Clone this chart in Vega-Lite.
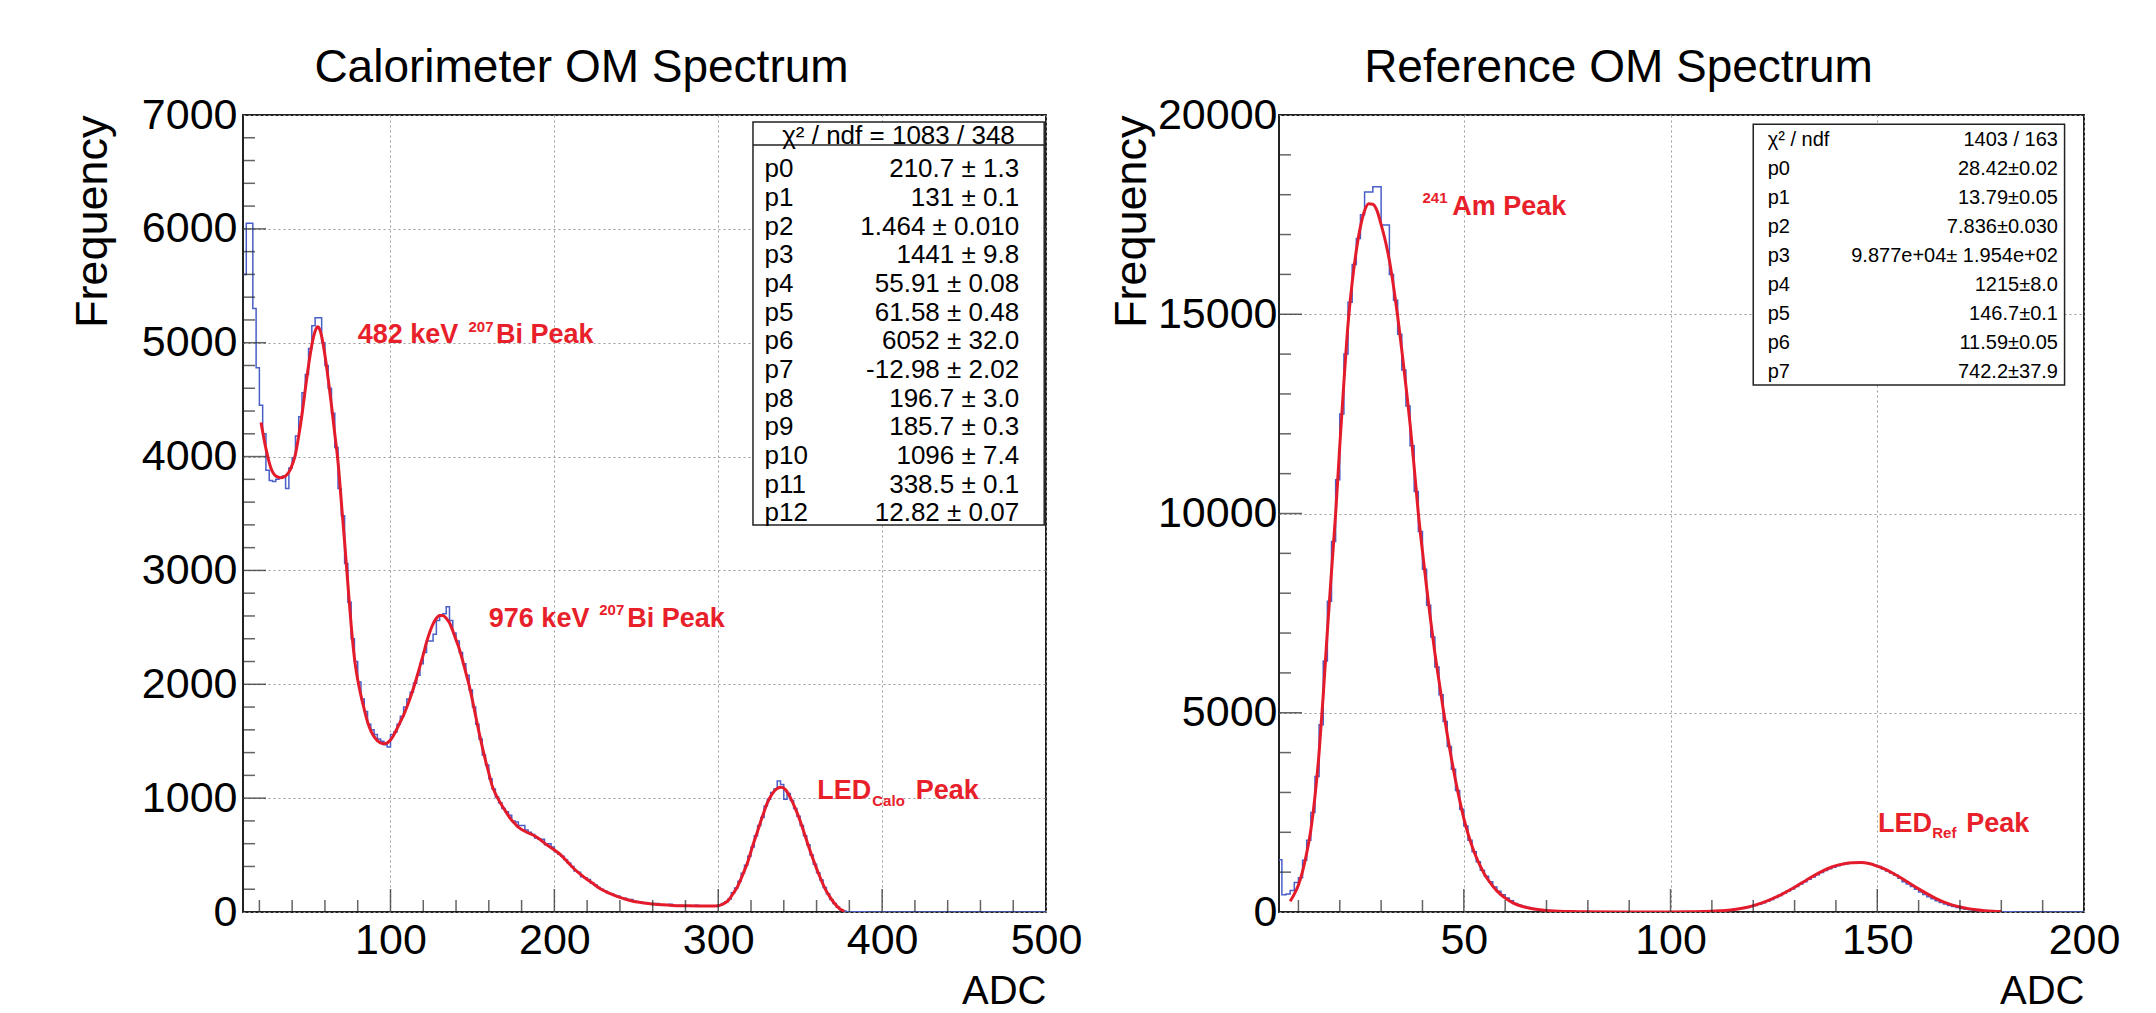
{
"$schema": "https://vega.github.io/schema/vega-lite/v6.json",
"background": "white",
"padding": {"left": 69, "top": 44, "right": 0, "bottom": 0},
"bounds": "flush",
"spacing": 233,
"config": {
  "view": {"stroke": "#222", "strokeWidth": 2},
  "font": "Liberation Sans",
  "axis": {"grid": true, "gridColor": "#9a9a9a", "gridDash": [2, 3], "gridWidth": 1, "domain": false, "ticks": false, "labelFont": "Liberation Sans", "labelFontSize": 43, "labelColor": "#000", "labelOverlap": false, "titleFont": "Liberation Sans", "titleFontSize": 45, "titleFontWeight": "normal", "titleColor": "#000", "format": "d"},
  "title": {"font": "Liberation Sans", "fontSize": 46, "fontWeight": "normal", "color": "#000"}
},
"datasets": {
  "calo_hist": [
    {"adc":10,"count":5600},{"adc":12,"count":6050},{"adc":14,"count":6050},{"adc":16,"count":5300},{"adc":18,"count":4780},{"adc":20,"count":4450},{"adc":22,"count":4200},{"adc":24,"count":3880},{"adc":26,"count":3790},{"adc":28,"count":3780},{"adc":30,"count":3800},{"adc":32,"count":3810},{"adc":34,"count":3830},{"adc":36,"count":3720},{"adc":38,"count":3900},{"adc":40,"count":3990},{"adc":42,"count":4180},{"adc":44,"count":4350},{"adc":46,"count":4560},{"adc":48,"count":4720},{"adc":50,"count":4950},{"adc":52,"count":5150},{"adc":54,"count":5220},{"adc":56,"count":5220},{"adc":58,"count":5000},{"adc":60,"count":4800},{"adc":62,"count":4600},{"adc":64,"count":4380},{"adc":66,"count":4080},{"adc":68,"count":3720},{"adc":70,"count":3480},{"adc":72,"count":3060},{"adc":74,"count":2720},{"adc":76,"count":2400},{"adc":78,"count":2200},{"adc":80,"count":2020},{"adc":82,"count":1870},{"adc":84,"count":1760},{"adc":86,"count":1650},{"adc":88,"count":1600},{"adc":90,"count":1560},{"adc":92,"count":1520},{"adc":94,"count":1500},{"adc":96,"count":1470},{"adc":98,"count":1450},{"adc":100,"count":1560},{"adc":102,"count":1580},{"adc":104,"count":1650},{"adc":106,"count":1720},{"adc":108,"count":1800},{"adc":110,"count":1870},{"adc":112,"count":1930},{"adc":114,"count":2010},{"adc":116,"count":2080},{"adc":118,"count":2180},{"adc":120,"count":2280},{"adc":122,"count":2380},{"adc":124,"count":2380},{"adc":126,"count":2440},{"adc":128,"count":2560},{"adc":130,"count":2600},{"adc":132,"count":2620},{"adc":134,"count":2680},{"adc":136,"count":2560},{"adc":138,"count":2450},{"adc":140,"count":2380},{"adc":142,"count":2280},{"adc":144,"count":2180},{"adc":146,"count":2080},{"adc":148,"count":1950},{"adc":150,"count":1800},{"adc":152,"count":1650},{"adc":154,"count":1520},{"adc":156,"count":1380},{"adc":158,"count":1290},{"adc":160,"count":1170},{"adc":162,"count":1080},{"adc":164,"count":1010},{"adc":166,"count":960},{"adc":168,"count":910},{"adc":170,"count":880},{"adc":172,"count":850},{"adc":174,"count":800},{"adc":176,"count":790},{"adc":178,"count":760},{"adc":180,"count":760},{"adc":182,"count":720},{"adc":184,"count":700},{"adc":186,"count":680},{"adc":188,"count":650},{"adc":190,"count":640},{"adc":192,"count":640},{"adc":194,"count":590},{"adc":196,"count":600},{"adc":198,"count":570},{"adc":200,"count":530},{"adc":202,"count":510},{"adc":204,"count":490},{"adc":206,"count":460},{"adc":208,"count":430},{"adc":210,"count":400},{"adc":212,"count":360},{"adc":214,"count":350},{"adc":216,"count":310},{"adc":218,"count":300},{"adc":220,"count":285},{"adc":222,"count":255},{"adc":224,"count":240},{"adc":226,"count":215},{"adc":228,"count":200},{"adc":230,"count":185},{"adc":232,"count":170},{"adc":234,"count":160},{"adc":236,"count":145},{"adc":238,"count":140},{"adc":240,"count":125},{"adc":242,"count":120},{"adc":244,"count":110},{"adc":246,"count":110},{"adc":248,"count":95},{"adc":250,"count":90},{"adc":252,"count":85},{"adc":254,"count":80},{"adc":256,"count":75},{"adc":258,"count":72},{"adc":260,"count":70},{"adc":262,"count":75},{"adc":264,"count":64},{"adc":266,"count":62},{"adc":268,"count":60},{"adc":270,"count":68},{"adc":272,"count":58},{"adc":274,"count":57},{"adc":276,"count":56},{"adc":278,"count":55},{"adc":280,"count":55},{"adc":282,"count":54},{"adc":284,"count":54},{"adc":286,"count":60},{"adc":288,"count":53},{"adc":290,"count":52},{"adc":292,"count":52},{"adc":294,"count":53},{"adc":296,"count":53},{"adc":298,"count":55},{"adc":300,"count":60},{"adc":302,"count":75},{"adc":304,"count":90},{"adc":306,"count":115},{"adc":308,"count":170},{"adc":310,"count":210},{"adc":312,"count":270},{"adc":314,"count":340},{"adc":316,"count":410},{"adc":318,"count":490},{"adc":320,"count":570},{"adc":322,"count":670},{"adc":324,"count":760},{"adc":326,"count":830},{"adc":328,"count":930},{"adc":330,"count":990},{"adc":332,"count":1050},{"adc":334,"count":1080},{"adc":336,"count":1150},{"adc":338,"count":1120},{"adc":340,"count":990},{"adc":342,"count":1040},{"adc":344,"count":980},{"adc":346,"count":910},{"adc":348,"count":840},{"adc":350,"count":760},{"adc":352,"count":670},{"adc":354,"count":590},{"adc":356,"count":500},{"adc":358,"count":420},{"adc":360,"count":345},{"adc":362,"count":280},{"adc":364,"count":215},{"adc":366,"count":160},{"adc":368,"count":110},{"adc":370,"count":75},{"adc":372,"count":45},{"adc":374,"count":20},{"adc":376,"count":8},{"adc":378,"count":3},{"adc":380,"count":2},{"adc":390,"count":1},{"adc":400,"count":1},{"adc":420,"count":0},{"adc":500,"count":0}
  ],
  "calo_fit": [
    {"adc":21,"count":4300},{"adc":24,"count":4070},{"adc":27,"count":3900},{"adc":30,"count":3830},{"adc":33,"count":3815},{"adc":36,"count":3830},{"adc":39,"count":3890},{"adc":42,"count":4020},{"adc":44,"count":4180},{"adc":46,"count":4370},{"adc":48,"count":4590},{"adc":50,"count":4800},{"adc":52,"count":4980},{"adc":54,"count":5100},{"adc":55.5,"count":5140},{"adc":57,"count":5110},{"adc":58.5,"count":5020},{"adc":60,"count":4890},{"adc":62,"count":4680},{"adc":64,"count":4450},{"adc":66,"count":4200},{"adc":68,"count":3950},{"adc":70,"count":3600},{"adc":72,"count":3250},{"adc":74,"count":2880},{"adc":76,"count":2520},{"adc":78,"count":2230},{"adc":80,"count":2040},{"adc":82,"count":1900},{"adc":84,"count":1780},{"adc":86,"count":1670},{"adc":88,"count":1590},{"adc":90,"count":1540},{"adc":92,"count":1505},{"adc":94,"count":1485},{"adc":96,"count":1478},{"adc":98,"count":1485},{"adc":100,"count":1510},{"adc":102,"count":1555},{"adc":104,"count":1610},{"adc":106,"count":1670},{"adc":108,"count":1730},{"adc":110,"count":1800},{"adc":112,"count":1880},{"adc":114,"count":1965},{"adc":116,"count":2060},{"adc":118,"count":2160},{"adc":120,"count":2260},{"adc":122,"count":2370},{"adc":124,"count":2460},{"adc":126,"count":2530},{"adc":128,"count":2580},{"adc":130,"count":2605},{"adc":132,"count":2605},{"adc":134,"count":2580},{"adc":136,"count":2540},{"adc":138,"count":2470},{"adc":140,"count":2390},{"adc":142,"count":2310},{"adc":144,"count":2210},{"adc":146,"count":2100},{"adc":148,"count":1990},{"adc":150,"count":1860},{"adc":152,"count":1720},{"adc":154,"count":1580},{"adc":156,"count":1450},{"adc":158,"count":1330},{"adc":160,"count":1220},{"adc":162,"count":1110},{"adc":164,"count":1040},{"adc":166,"count":985},{"adc":168,"count":935},{"adc":170,"count":890},{"adc":172,"count":845},{"adc":174,"count":805},{"adc":176,"count":775},{"adc":178,"count":745},{"adc":180,"count":725},{"adc":182,"count":710},{"adc":184,"count":695},{"adc":186,"count":683},{"adc":188,"count":668},{"adc":190,"count":650},{"adc":192,"count":628},{"adc":194,"count":605},{"adc":196,"count":584},{"adc":198,"count":565},{"adc":200,"count":545},{"adc":204,"count":500},{"adc":208,"count":440},{"adc":212,"count":380},{"adc":216,"count":330},{"adc":220,"count":285},{"adc":224,"count":245},{"adc":228,"count":205},{"adc":232,"count":175},{"adc":236,"count":150},{"adc":240,"count":128},{"adc":244,"count":110},{"adc":248,"count":95},{"adc":252,"count":85},{"adc":256,"count":76},{"adc":260,"count":70},{"adc":266,"count":63},{"adc":272,"count":58},{"adc":280,"count":55},{"adc":288,"count":53},{"adc":296,"count":53},{"adc":300,"count":55},{"adc":303,"count":70},{"adc":306,"count":100},{"adc":309,"count":160},{"adc":312,"count":230},{"adc":315,"count":330},{"adc":318,"count":440},{"adc":321,"count":580},{"adc":324,"count":710},{"adc":327,"count":840},{"adc":330,"count":960},{"adc":333,"count":1040},{"adc":336,"count":1085},{"adc":338.5,"count":1096},{"adc":341,"count":1075},{"adc":344,"count":1005},{"adc":347,"count":910},{"adc":350,"count":800},{"adc":353,"count":670},{"adc":356,"count":540},{"adc":359,"count":420},{"adc":362,"count":310},{"adc":365,"count":210},{"adc":368,"count":135},{"adc":371,"count":75},{"adc":374,"count":30},{"adc":377,"count":6}
  ],
  "ref_hist": [
    {"adc":5,"count":1310},{"adc":6,"count":430},{"adc":7,"count":450},{"adc":8,"count":540},{"adc":9,"count":740},{"adc":10,"count":860},{"adc":11,"count":1300},{"adc":12,"count":1800},{"adc":13,"count":2500},{"adc":14,"count":3400},{"adc":15,"count":4700},{"adc":16,"count":6300},{"adc":17,"count":7800},{"adc":18,"count":9300},{"adc":19,"count":10850},{"adc":20,"count":12500},{"adc":21,"count":14000},{"adc":22,"count":15300},{"adc":23,"count":16250},{"adc":24,"count":16900},{"adc":25,"count":17500},{"adc":26,"count":18070},{"adc":27,"count":18070},{"adc":28,"count":18200},{"adc":29,"count":18200},{"adc":30,"count":17240},{"adc":31,"count":17240},{"adc":32,"count":16000},{"adc":33,"count":15350},{"adc":34,"count":14500},{"adc":35,"count":13600},{"adc":36,"count":12700},{"adc":37,"count":11700},{"adc":38,"count":10550},{"adc":39,"count":9550},{"adc":40,"count":8600},{"adc":41,"count":7700},{"adc":42,"count":6900},{"adc":43,"count":6150},{"adc":44,"count":5450},{"adc":45,"count":4780},{"adc":46,"count":4150},{"adc":47,"count":3580},{"adc":48,"count":3050},{"adc":49,"count":2580},{"adc":50,"count":2160},{"adc":51,"count":1800},{"adc":52,"count":1510},{"adc":53,"count":1260},{"adc":54,"count":1050},{"adc":55,"count":900},{"adc":56,"count":760},{"adc":57,"count":630},{"adc":58,"count":520},{"adc":59,"count":430},{"adc":60,"count":350},{"adc":61,"count":280},{"adc":62,"count":215},{"adc":63,"count":170},{"adc":64,"count":135},{"adc":65,"count":110},{"adc":66,"count":90},{"adc":67,"count":72},{"adc":68,"count":58},{"adc":69,"count":46},{"adc":70,"count":37},{"adc":71,"count":30},{"adc":72,"count":24},{"adc":73,"count":19},{"adc":74,"count":15},{"adc":75,"count":12},{"adc":76,"count":10},{"adc":77,"count":8},{"adc":78,"count":6},{"adc":82,"count":5},{"adc":90,"count":4},{"adc":98,"count":4},{"adc":104,"count":5},{"adc":105,"count":6},{"adc":106,"count":8},{"adc":107,"count":10},{"adc":108,"count":12},{"adc":109,"count":15},{"adc":110,"count":20},{"adc":111,"count":25},{"adc":112,"count":32},{"adc":113,"count":40},{"adc":114,"count":50},{"adc":115,"count":62},{"adc":116,"count":78},{"adc":117,"count":95},{"adc":118,"count":115},{"adc":119,"count":140},{"adc":120,"count":165},{"adc":121,"count":195},{"adc":122,"count":230},{"adc":123,"count":270},{"adc":124,"count":315},{"adc":125,"count":365},{"adc":126,"count":415},{"adc":127,"count":470},{"adc":128,"count":525},{"adc":129,"count":580},{"adc":130,"count":640},{"adc":131,"count":700},{"adc":132,"count":760},{"adc":133,"count":820},{"adc":134,"count":880},{"adc":135,"count":935},{"adc":136,"count":990},{"adc":137,"count":1040},{"adc":138,"count":1085},{"adc":139,"count":1125},{"adc":140,"count":1160},{"adc":141,"count":1190},{"adc":142,"count":1210},{"adc":143,"count":1225},{"adc":144,"count":1235},{"adc":145,"count":1240},{"adc":146,"count":1238},{"adc":147,"count":1225},{"adc":148,"count":1205},{"adc":149,"count":1175},{"adc":150,"count":1140},{"adc":151,"count":1080},{"adc":152,"count":1030},{"adc":153,"count":980},{"adc":154,"count":920},{"adc":155,"count":850},{"adc":156,"count":760},{"adc":157,"count":700},{"adc":158,"count":640},{"adc":159,"count":570},{"adc":160,"count":500},{"adc":161,"count":440},{"adc":162,"count":385},{"adc":163,"count":330},{"adc":164,"count":285},{"adc":165,"count":240},{"adc":166,"count":200},{"adc":167,"count":165},{"adc":168,"count":135},{"adc":169,"count":110},{"adc":170,"count":90},{"adc":171,"count":72},{"adc":172,"count":57},{"adc":173,"count":45},{"adc":174,"count":35},{"adc":175,"count":27},{"adc":176,"count":20},{"adc":177,"count":15},{"adc":178,"count":11},{"adc":179,"count":8},{"adc":180,"count":6},{"adc":181,"count":5},{"adc":182,"count":4},{"adc":183,"count":3},{"adc":184,"count":3},{"adc":185,"count":2},{"adc":186,"count":2},{"adc":187,"count":1},{"adc":188,"count":0},{"adc":200,"count":0}
  ],
  "ref_fit": [
    {"adc":8,"count":270},{"adc":9,"count":450},{"adc":10,"count":680},{"adc":11,"count":1020},{"adc":12,"count":1480},{"adc":13,"count":2060},{"adc":14,"count":2900},{"adc":15,"count":4000},{"adc":16,"count":5450},{"adc":17,"count":7050},{"adc":18,"count":8550},{"adc":19,"count":10000},{"adc":20,"count":11700},{"adc":21,"count":13300},{"adc":22,"count":14750},{"adc":23,"count":15800},{"adc":24,"count":16600},{"adc":25,"count":17200},{"adc":26,"count":17600},{"adc":27,"count":17770},{"adc":28,"count":17760},{"adc":29,"count":17600},{"adc":30,"count":17250},{"adc":31,"count":16850},{"adc":32,"count":16350},{"adc":33,"count":15700},{"adc":34,"count":14950},{"adc":35,"count":14100},{"adc":36,"count":13200},{"adc":37,"count":12250},{"adc":38,"count":11150},{"adc":39,"count":10000},{"adc":40,"count":9050},{"adc":41,"count":8150},{"adc":42,"count":7300},{"adc":43,"count":6500},{"adc":44,"count":5800},{"adc":45,"count":5100},{"adc":46,"count":4450},{"adc":47,"count":3850},{"adc":48,"count":3300},{"adc":49,"count":2800},{"adc":50,"count":2350},{"adc":51,"count":1970},{"adc":52,"count":1650},{"adc":53,"count":1380},{"adc":54,"count":1150},{"adc":55,"count":950},{"adc":56,"count":790},{"adc":57,"count":650},{"adc":58,"count":530},{"adc":60,"count":350},{"adc":62,"count":225},{"adc":64,"count":145},{"adc":66,"count":95},{"adc":68,"count":60},{"adc":70,"count":38},{"adc":73,"count":20},{"adc":76,"count":10},{"adc":80,"count":5},{"adc":90,"count":3},{"adc":100,"count":3},{"adc":104,"count":5},{"adc":108,"count":10},{"adc":112,"count":30},{"adc":115,"count":55},{"adc":118,"count":105},{"adc":121,"count":190},{"adc":124,"count":305},{"adc":127,"count":450},{"adc":130,"count":620},{"adc":133,"count":810},{"adc":136,"count":990},{"adc":139,"count":1130},{"adc":142,"count":1210},{"adc":144,"count":1235},{"adc":146,"count":1240},{"adc":148,"count":1215},{"adc":150,"count":1150},{"adc":152,"count":1070},{"adc":154,"count":960},{"adc":156,"count":840},{"adc":158,"count":710},{"adc":160,"count":580},{"adc":162,"count":460},{"adc":164,"count":350},{"adc":166,"count":255},{"adc":168,"count":180},{"adc":170,"count":125},{"adc":172,"count":85},{"adc":174,"count":55},{"adc":176,"count":32},{"adc":178,"count":18},{"adc":180,"count":10}
  ],
  "calo_xminor": [{"adc":20},{"adc":40},{"adc":60},{"adc":80},{"adc":120},{"adc":140},{"adc":160},{"adc":180},{"adc":220},{"adc":240},{"adc":260},{"adc":280},{"adc":320},{"adc":340},{"adc":360},{"adc":380},{"adc":420},{"adc":440},{"adc":460},{"adc":480}],
  "calo_xmajor": [{"adc":100},{"adc":200},{"adc":300},{"adc":400}],
  "calo_yminor": [{"count":200},{"count":400},{"count":600},{"count":800},{"count":1200},{"count":1400},{"count":1600},{"count":1800},{"count":2200},{"count":2400},{"count":2600},{"count":2800},{"count":3200},{"count":3400},{"count":3600},{"count":3800},{"count":4200},{"count":4400},{"count":4600},{"count":4800},{"count":5200},{"count":5400},{"count":5600},{"count":5800},{"count":6200},{"count":6400},{"count":6600},{"count":6800}],
  "calo_ymajor": [{"count":1000},{"count":2000},{"count":3000},{"count":4000},{"count":5000},{"count":6000}],
  "ref_xminor": [{"adc":10},{"adc":20},{"adc":30},{"adc":40},{"adc":60},{"adc":70},{"adc":80},{"adc":90},{"adc":110},{"adc":120},{"adc":130},{"adc":140},{"adc":160},{"adc":170},{"adc":180},{"adc":190}],
  "ref_xmajor": [{"adc":50},{"adc":100},{"adc":150}],
  "ref_yminor": [{"count":1000},{"count":2000},{"count":3000},{"count":4000},{"count":6000},{"count":7000},{"count":8000},{"count":9000},{"count":11000},{"count":12000},{"count":13000},{"count":14000},{"count":16000},{"count":17000},{"count":18000},{"count":19000}],
  "ref_ymajor": [{"count":5000},{"count":10000},{"count":15000}],
  "calo_stats": [
    {"label":"p0","val":"210.7 ± 1.3","count":6523},{"label":"p1","val":"131 ± 0.1","count":6271},{"label":"p2","val":"1.464 ± 0.010","count":6020},{"label":"p3","val":"1441 ± 9.8","count":5768},{"label":"p4","val":"55.91 ± 0.08","count":5516},{"label":"p5","val":"61.58 ± 0.48","count":5264},{"label":"p6","val":"6052 ± 32.0","count":5013},{"label":"p7","val":"-12.98 ± 2.02","count":4761},{"label":"p8","val":"196.7 ± 3.0","count":4509},{"label":"p9","val":"185.7 ± 0.3","count":4257},{"label":"p10","val":"1096 ± 7.4","count":4005},{"label":"p11","val":"338.5 ± 0.1","count":3754},{"label":"p12","val":"12.82 ± 0.07","count":3502}
  ],
  "ref_stats": [
    {"label":"χ² / ndf","val":"1403 / 163","count":19369},{"label":"p0","val":"28.42±0.02","count":18642},{"label":"p1","val":"13.79±0.05","count":17916},{"label":"p2","val":"7.836±0.030","count":17188},{"label":"p3","val":"9.877e+04± 1.954e+02","count":16462},{"label":"p4","val":"1215±8.0","count":15735},{"label":"p5","val":"146.7±0.1","count":15008},{"label":"p6","val":"11.59±0.05","count":14282},{"label":"p7","val":"742.2±37.9","count":13555}
  ],
  "calo_ann_big": [{"adc":80.0,"count":4995,"t":"482 keV"},{"adc":164.4,"count":4995,"t":"Bi Peak"},{"adc":160.0,"count":2506,"t":"976 keV"},{"adc":244.4,"count":2506,"t":"Bi Peak"},{"adc":360.4,"count":990,"t":"LED"},{"adc":420.5,"count":990,"t":"Peak"}],
  "calo_ann_small": [{"adc":147.6,"count":5098,"t":"207"},{"adc":227.4,"count":2608,"t":"207"},{"adc":394.0,"count":934,"t":"Calo"}],
  "ref_ann_big": [{"adc":47.2,"count":17488,"t":"Am Peak"},{"adc":150.2,"count":2015,"t":"LED"},{"adc":171.5,"count":2015,"t":"Peak"}],
  "ref_ann_small": [{"adc":40.0,"count":17781,"t":"241"},{"adc":163.3,"count":1849,"t":"Ref"}]
},
"hconcat": [
  {
    "width": 803, "height": 797,
    "title": {"text": "Calorimeter OM Spectrum", "anchor": "middle", "frame": "group", "dx": -63, "offset": -34, "baseline": "alphabetic"},
    "layer": [
      {"data": {"name": "calo_hist"}, "mark": {"type": "line", "interpolate": "step-after", "color": "#4a5fc8", "strokeWidth": 1.5, "clip": true},
       "encoding": {
         "x": {"field": "adc", "type": "quantitative", "scale": {"domain": [10, 500], "nice": false, "zero": false}, "axis": {"values": [100, 200, 300, 400, 500], "title": "ADC", "titleAnchor": "end", "titleFontSize": 40, "labelPadding": 7, "titlePadding": 9, "labelFlush": false}},
         "y": {"field": "count", "type": "quantitative", "scale": {"domain": [0, 7000], "nice": false}, "axis": {"values": [0, 1000, 2000, 3000, 4000, 5000, 6000, 7000], "title": "Frequency", "titleAnchor": "end", "labelPadding": 6, "titlePadding": 26}}
       }},
      {"data": {"name": "calo_fit"}, "mark": {"type": "line", "interpolate": "monotone", "color": "#e41b2a", "strokeWidth": 3, "clip": true},
       "encoding": {"x": {"field": "adc", "type": "quantitative"}, "y": {"field": "count", "type": "quantitative"}}},
      {"data": {"name": "calo_xminor"}, "mark": {"type": "tick", "orient": "vertical", "size": 12, "thickness": 1.5, "color": "#222", "yOffset": -6},
       "encoding": {"x": {"field": "adc", "type": "quantitative"}, "y": {"datum": 0}}},
      {"data": {"name": "calo_xmajor"}, "mark": {"type": "tick", "orient": "vertical", "size": 23, "thickness": 1.5, "color": "#222", "yOffset": -11.5},
       "encoding": {"x": {"field": "adc", "type": "quantitative"}, "y": {"datum": 0}}},
      {"data": {"name": "calo_yminor"}, "mark": {"type": "tick", "orient": "horizontal", "size": 12, "thickness": 1.5, "color": "#222", "xOffset": 6},
       "encoding": {"y": {"field": "count", "type": "quantitative"}, "x": {"datum": 10}}},
      {"data": {"name": "calo_ymajor"}, "mark": {"type": "tick", "orient": "horizontal", "size": 23, "thickness": 1.5, "color": "#222", "xOffset": 11.5},
       "encoding": {"y": {"field": "count", "type": "quantitative"}, "x": {"datum": 10}}},
      {"data": {"values": [{}]}, "mark": {"type": "rect", "fill": "white", "stroke": "#222", "strokeWidth": 1.5},
       "encoding": {"x": {"datum": 321.2}, "x2": {"datum": 498.9}, "y": {"datum": 3399}, "y2": {"datum": 6939}}},
      {"data": {"values": [{}]}, "mark": {"type": "rule", "stroke": "#222", "strokeWidth": 1.5},
       "encoding": {"x": {"datum": 321.2}, "x2": {"datum": 498.9}, "y": {"datum": 6737}}},
      {"data": {"values": [{}]}, "mark": {"type": "text", "align": "center", "baseline": "middle", "fontSize": 26, "font": "Liberation Sans", "color": "#000"},
       "encoding": {"x": {"datum": 410}, "y": {"datum": 6817}, "text": {"value": "χ² / ndf =  1083 / 348"}}},
      {"data": {"name": "calo_stats"}, "mark": {"type": "text", "align": "left", "baseline": "middle", "fontSize": 26, "font": "Liberation Sans", "color": "#000"},
       "encoding": {"x": {"datum": 328.2}, "y": {"field": "count", "type": "quantitative"}, "text": {"field": "label"}}},
      {"data": {"name": "calo_stats"}, "mark": {"type": "text", "align": "right", "baseline": "middle", "fontSize": 26, "font": "Liberation Sans", "color": "#000"},
       "encoding": {"x": {"datum": 483.6}, "y": {"field": "count", "type": "quantitative"}, "text": {"field": "val"}}},
      {"data": {"name": "calo_ann_big"}, "mark": {"type": "text", "align": "left", "baseline": "alphabetic", "fontSize": 27, "fontWeight": "bold", "font": "Liberation Sans", "color": "#e8202a"},
       "encoding": {"x": {"field": "adc", "type": "quantitative"}, "y": {"field": "count", "type": "quantitative"}, "text": {"field": "t"}}},
      {"data": {"name": "calo_ann_small"}, "mark": {"type": "text", "align": "left", "baseline": "alphabetic", "fontSize": 15, "fontWeight": "bold", "font": "Liberation Sans", "color": "#e8202a"},
       "encoding": {"x": {"field": "adc", "type": "quantitative"}, "y": {"field": "count", "type": "quantitative"}, "text": {"field": "t"}}}
    ]
  },
  {
    "width": 805, "height": 797,
    "title": {"text": "Reference OM Spectrum", "anchor": "middle", "frame": "group", "dx": -63, "offset": -34, "baseline": "alphabetic"},
    "layer": [
      {"data": {"name": "ref_hist"}, "mark": {"type": "line", "interpolate": "step-after", "color": "#4a5fc8", "strokeWidth": 1.5, "clip": true},
       "encoding": {
         "x": {"field": "adc", "type": "quantitative", "scale": {"domain": [5.3, 200], "nice": false, "zero": false}, "axis": {"values": [50, 100, 150, 200], "title": "ADC", "titleAnchor": "end", "titleFontSize": 40, "labelPadding": 7, "titlePadding": 9, "labelFlush": false}},
         "y": {"field": "count", "type": "quantitative", "scale": {"domain": [0, 20000], "nice": false}, "axis": {"values": [0, 5000, 10000, 15000, 20000], "title": "Frequency", "titleAnchor": "end", "labelPadding": 2, "titlePadding": 3}}
       }},
      {"data": {"name": "ref_fit"}, "mark": {"type": "line", "interpolate": "monotone", "color": "#e41b2a", "strokeWidth": 3, "clip": true},
       "encoding": {"x": {"field": "adc", "type": "quantitative"}, "y": {"field": "count", "type": "quantitative"}}},
      {"data": {"name": "ref_xminor"}, "mark": {"type": "tick", "orient": "vertical", "size": 12, "thickness": 1.5, "color": "#222", "yOffset": -6},
       "encoding": {"x": {"field": "adc", "type": "quantitative"}, "y": {"datum": 0}}},
      {"data": {"name": "ref_xmajor"}, "mark": {"type": "tick", "orient": "vertical", "size": 23, "thickness": 1.5, "color": "#222", "yOffset": -11.5},
       "encoding": {"x": {"field": "adc", "type": "quantitative"}, "y": {"datum": 0}}},
      {"data": {"name": "ref_yminor"}, "mark": {"type": "tick", "orient": "horizontal", "size": 12, "thickness": 1.5, "color": "#222", "xOffset": 6},
       "encoding": {"y": {"field": "count", "type": "quantitative"}, "x": {"datum": 5.3}}},
      {"data": {"name": "ref_ymajor"}, "mark": {"type": "tick", "orient": "horizontal", "size": 23, "thickness": 1.5, "color": "#222", "xOffset": 11.5},
       "encoding": {"y": {"field": "count", "type": "quantitative"}, "x": {"datum": 5.3}}},
      {"data": {"values": [{}]}, "mark": {"type": "rect", "fill": "white", "stroke": "#222", "strokeWidth": 1.5},
       "encoding": {"x": {"datum": 120.0}, "x2": {"datum": 195.3}, "y": {"datum": 13222}, "y2": {"datum": 19771}}},
      {"data": {"name": "ref_stats"}, "mark": {"type": "text", "align": "left", "baseline": "middle", "fontSize": 20, "font": "Liberation Sans", "color": "#000"},
       "encoding": {"x": {"datum": 123.5}, "y": {"field": "count", "type": "quantitative"}, "text": {"field": "label"}}},
      {"data": {"name": "ref_stats"}, "mark": {"type": "text", "align": "right", "baseline": "middle", "fontSize": 20, "font": "Liberation Sans", "color": "#000"},
       "encoding": {"x": {"datum": 193.7}, "y": {"field": "count", "type": "quantitative"}, "text": {"field": "val"}}},
      {"data": {"name": "ref_ann_big"}, "mark": {"type": "text", "align": "left", "baseline": "alphabetic", "fontSize": 27, "fontWeight": "bold", "font": "Liberation Sans", "color": "#e8202a"},
       "encoding": {"x": {"field": "adc", "type": "quantitative"}, "y": {"field": "count", "type": "quantitative"}, "text": {"field": "t"}}},
      {"data": {"name": "ref_ann_small"}, "mark": {"type": "text", "align": "left", "baseline": "alphabetic", "fontSize": 15, "fontWeight": "bold", "font": "Liberation Sans", "color": "#e8202a"},
       "encoding": {"x": {"field": "adc", "type": "quantitative"}, "y": {"field": "count", "type": "quantitative"}, "text": {"field": "t"}}}
    ]
  }
]
}
